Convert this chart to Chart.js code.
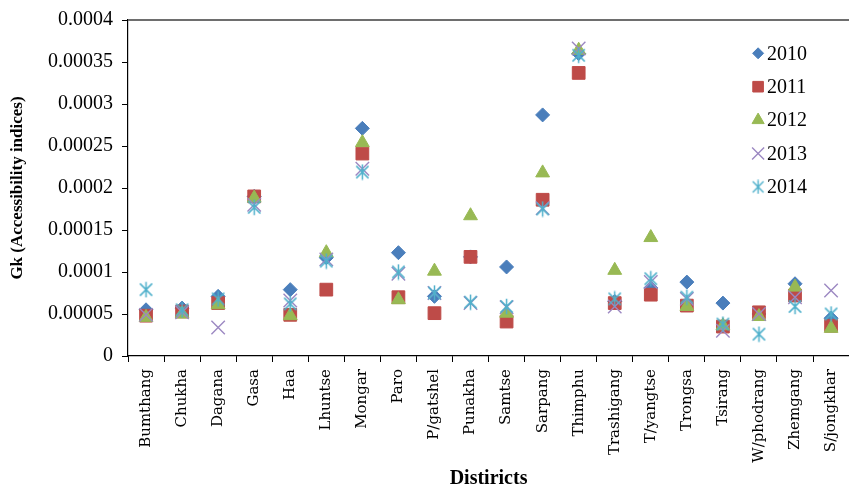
<!DOCTYPE html>
<html>
<head>
<meta charset="utf-8">
<script src="https://cdn.jsdelivr.net/npm/chart.js@4.4.1/dist/chart.umd.min.js"></script>
<style>
  html, body { margin: 0; padding: 0; overflow: hidden; background: #fff; }
  #wrap { width: 860px; height: 489px; }
</style>
</head>
<body>
<div id="wrap"><canvas id="c"></canvas></div>
<script>
// Districts of Bhutan
const districts = ['Bumthang', 'Chukha', 'Dagana', 'Gasa', 'Haa', 'Lhuntse', 'Mongar', 'Paro',
  'P/gatshel', 'Punakha', 'Samtse', 'Sarpang', 'Thimphu', 'Trashigang', 'T/yangtse', 'Trongsa',
  'Tsirang', 'W/phodrang', 'Zhemgang', 'S/jongkhar'];

const years = ['2010', '2011', '2012', '2013', '2014'];

// Gk accessibility index per district, one array per year
const gk2010 = [0.000055, 0.000057, 0.000071, 0.000190, 0.000079, 0.000117, 0.000271, 0.000123,
  0.000071, 0.000118, 0.000106, 0.000287, 0.000360, 0.000065, 0.000081, 0.000088,
  0.000063, 0.000050, 0.000086, 0.000045];
const gk2011 = [0.000048, 0.000053, 0.000063, 0.000190, 0.000049, 0.000079, 0.000241, 0.000070,
  0.000051, 0.000118, 0.000041, 0.000186, 0.000337, 0.000063, 0.000073, 0.000060,
  0.000035, 0.000052, 0.000072, 0.000036];
const gk2012 = [0.000046, 0.000050, 0.000061, 0.000188, 0.000048, 0.000123, 0.000254, 0.000067,
  0.000101, 0.000167, 0.000051, 0.000218, 0.000364, 0.000102, 0.000141, 0.000059,
  0.000036, 0.000047, 0.000082, 0.000033];
const gk2013 = [0.000049, 0.000052, 0.000034, 0.000180, 0.000066, 0.000115, 0.000223, 0.000098,
  0.000075, 0.000063, 0.000058, 0.000176, 0.000366, 0.000059, 0.000088, 0.000068,
  0.000030, 0.000050, 0.000070, 0.000078];
const gk2014 = [0.000079, 0.000055, 0.000068, 0.000177, 0.000062, 0.000113, 0.000219, 0.000100,
  0.000075, 0.000064, 0.000059, 0.000175, 0.000358, 0.000068, 0.000092, 0.000070,
  0.000038, 0.000026, 0.000059, 0.000050];

const yTickLabels = ['0', '0.00005', '0.0001', '0.00015', '0.0002', '0.00025', '0.0003', '0.00035', '0.0004'];
const yStep = 0.00005;

// Asterisk marker: an X crossed by a vertical stroke
function makeAsterisk(size, color, lw) {
  const c = document.createElement('canvas');
  c.width = size; c.height = size;
  const g = c.getContext('2d');
  const m = size / 2, d = size * 0.36, v = size * 0.46;
  g.strokeStyle = color; g.lineWidth = lw;
  g.beginPath();
  g.moveTo(m - d, m - d); g.lineTo(m + d, m + d);
  g.moveTo(m + d, m - d); g.lineTo(m - d, m + d);
  g.moveTo(m, m - v); g.lineTo(m, m + v);
  g.stroke();
  return c;
}

const series = [gk2010, gk2011, gk2012, gk2013, gk2014];
const markers = [
  { style: 'rectRot', radius: 7, color: '#4A7EBB', border: 1, legendRadius: 5.5 },
  { style: 'rect', radius: 9, color: '#BE4B48', border: 1, legendRadius: 7.5 },
  { style: 'triangle', radius: 8, color: '#98B954', border: 1, legendRadius: 7 },
  { style: 'crossRot', radius: 9.5, color: '#9C88C2', border: 1.4, legendRadius: 8.5 },
  { style: makeAsterisk(17, '#4FB0CB', 1.5), radius: 8.5, color: '#4FB0CB', border: 1.5,
    legendStyle: makeAsterisk(15, '#4FB0CB', 1.4), legendRadius: 7.5 }
];

const datasets = series.map((vals, i) => ({
  label: years[i],
  data: vals,
  showLine: false,
  pointStyle: markers[i].style,
  pointRadius: markers[i].radius,
  pointHoverRadius: markers[i].radius,
  pointBackgroundColor: markers[i].color,
  pointBorderColor: markers[i].color,
  pointBorderWidth: markers[i].border,
  order: series.length - 1 - i
}));

// Legend drawn inside the plot, upper right
const insideLegend = {
  id: 'insideLegend',
  afterDraw(chart) {
    const { ctx, chartArea } = chart;
    const mx = chartArea.right - 91;
    const y0 = chartArea.top + 33.3;
    const gap = 33.4;
    ctx.save();
    markers.forEach((m, i) => {
      const y = y0 + i * gap;
      ctx.fillStyle = m.color;
      ctx.strokeStyle = m.color;
      ctx.lineWidth = m.border;
      Chart.helpers.drawPoint(ctx, {
        pointStyle: m.legendStyle || m.style,
        radius: m.legendRadius,
        borderWidth: m.border,
        rotation: 0
      }, mx, y);
      ctx.fillStyle = '#000';
      ctx.font = '20px "Liberation Serif", serif';
      ctx.textBaseline = 'middle';
      ctx.textAlign = 'left';
      ctx.fillText(years[i], mx + 9, y + 1);
    });
    ctx.restore();
  }
};

// Grey frame line along the top of the plot area
const topFrame = {
  id: 'topFrame',
  afterDraw(chart) {
    const { ctx, chartArea } = chart;
    ctx.save();
    ctx.strokeStyle = '#6e6e6e';
    ctx.lineWidth = 2;
    ctx.beginPath();
    ctx.moveTo(chartArea.left, chartArea.top);
    ctx.lineTo(chartArea.right + 2, chartArea.top);
    ctx.stroke();
    ctx.restore();
  }
};

new Chart(document.getElementById('c'), {
  type: 'line',
  data: { labels: districts, datasets },
  plugins: [insideLegend, topFrame],
  options: {
    responsive: true,
    maintainAspectRatio: false,
    animation: false,
    layout: { padding: { top: 20, right: 6, bottom: 0, left: 0 } },
    plugins: { legend: { display: false }, tooltip: { enabled: false } },
    scales: {
      x: {
        type: 'category',
        offset: true,
        grid: { offset: true, drawOnChartArea: false, drawTicks: true, tickLength: 6, color: '#000' },
        border: { color: '#000', width: 1.2 },
        ticks: {
          autoSkip: false, minRotation: 90, maxRotation: 90, padding: 7,
          color: '#000', font: { family: '"DejaVu Serif", serif', size: 15 }
        },
        title: {
          display: true, text: 'Distiricts', color: '#000',
          font: { family: '"Liberation Serif", serif', size: 20, weight: 'bold', lineHeight: 1 },
          padding: { top: 0, bottom: 0 }
        },
        afterFit(scale) { scale.height = 133; scale.paddingLeft = 0; scale.paddingRight = 0; }
      },
      y: {
        min: 0, max: 0.0004,
        grid: { drawOnChartArea: false, drawTicks: true, tickLength: 6, color: '#000' },
        border: { color: '#000', width: 1.2 },
        ticks: {
          stepSize: yStep, padding: 9, color: '#000',
          font: { family: '"Liberation Serif", serif', size: 20 },
          callback: (v) => yTickLabels[Math.round(v / yStep)]
        },
        title: {
          display: true, text: 'Gk (Accessibility indices)', color: '#000',
          font: { family: '"Liberation Serif", serif', size: 17, weight: 'bold', lineHeight: 1.2 },
          padding: { top: 7, bottom: 0 }
        },
        afterFit(scale) { scale.width = 128; scale.paddingTop = 0; scale.paddingBottom = 0; }
      }
    }
  }
});
</script>
</body>
</html>
